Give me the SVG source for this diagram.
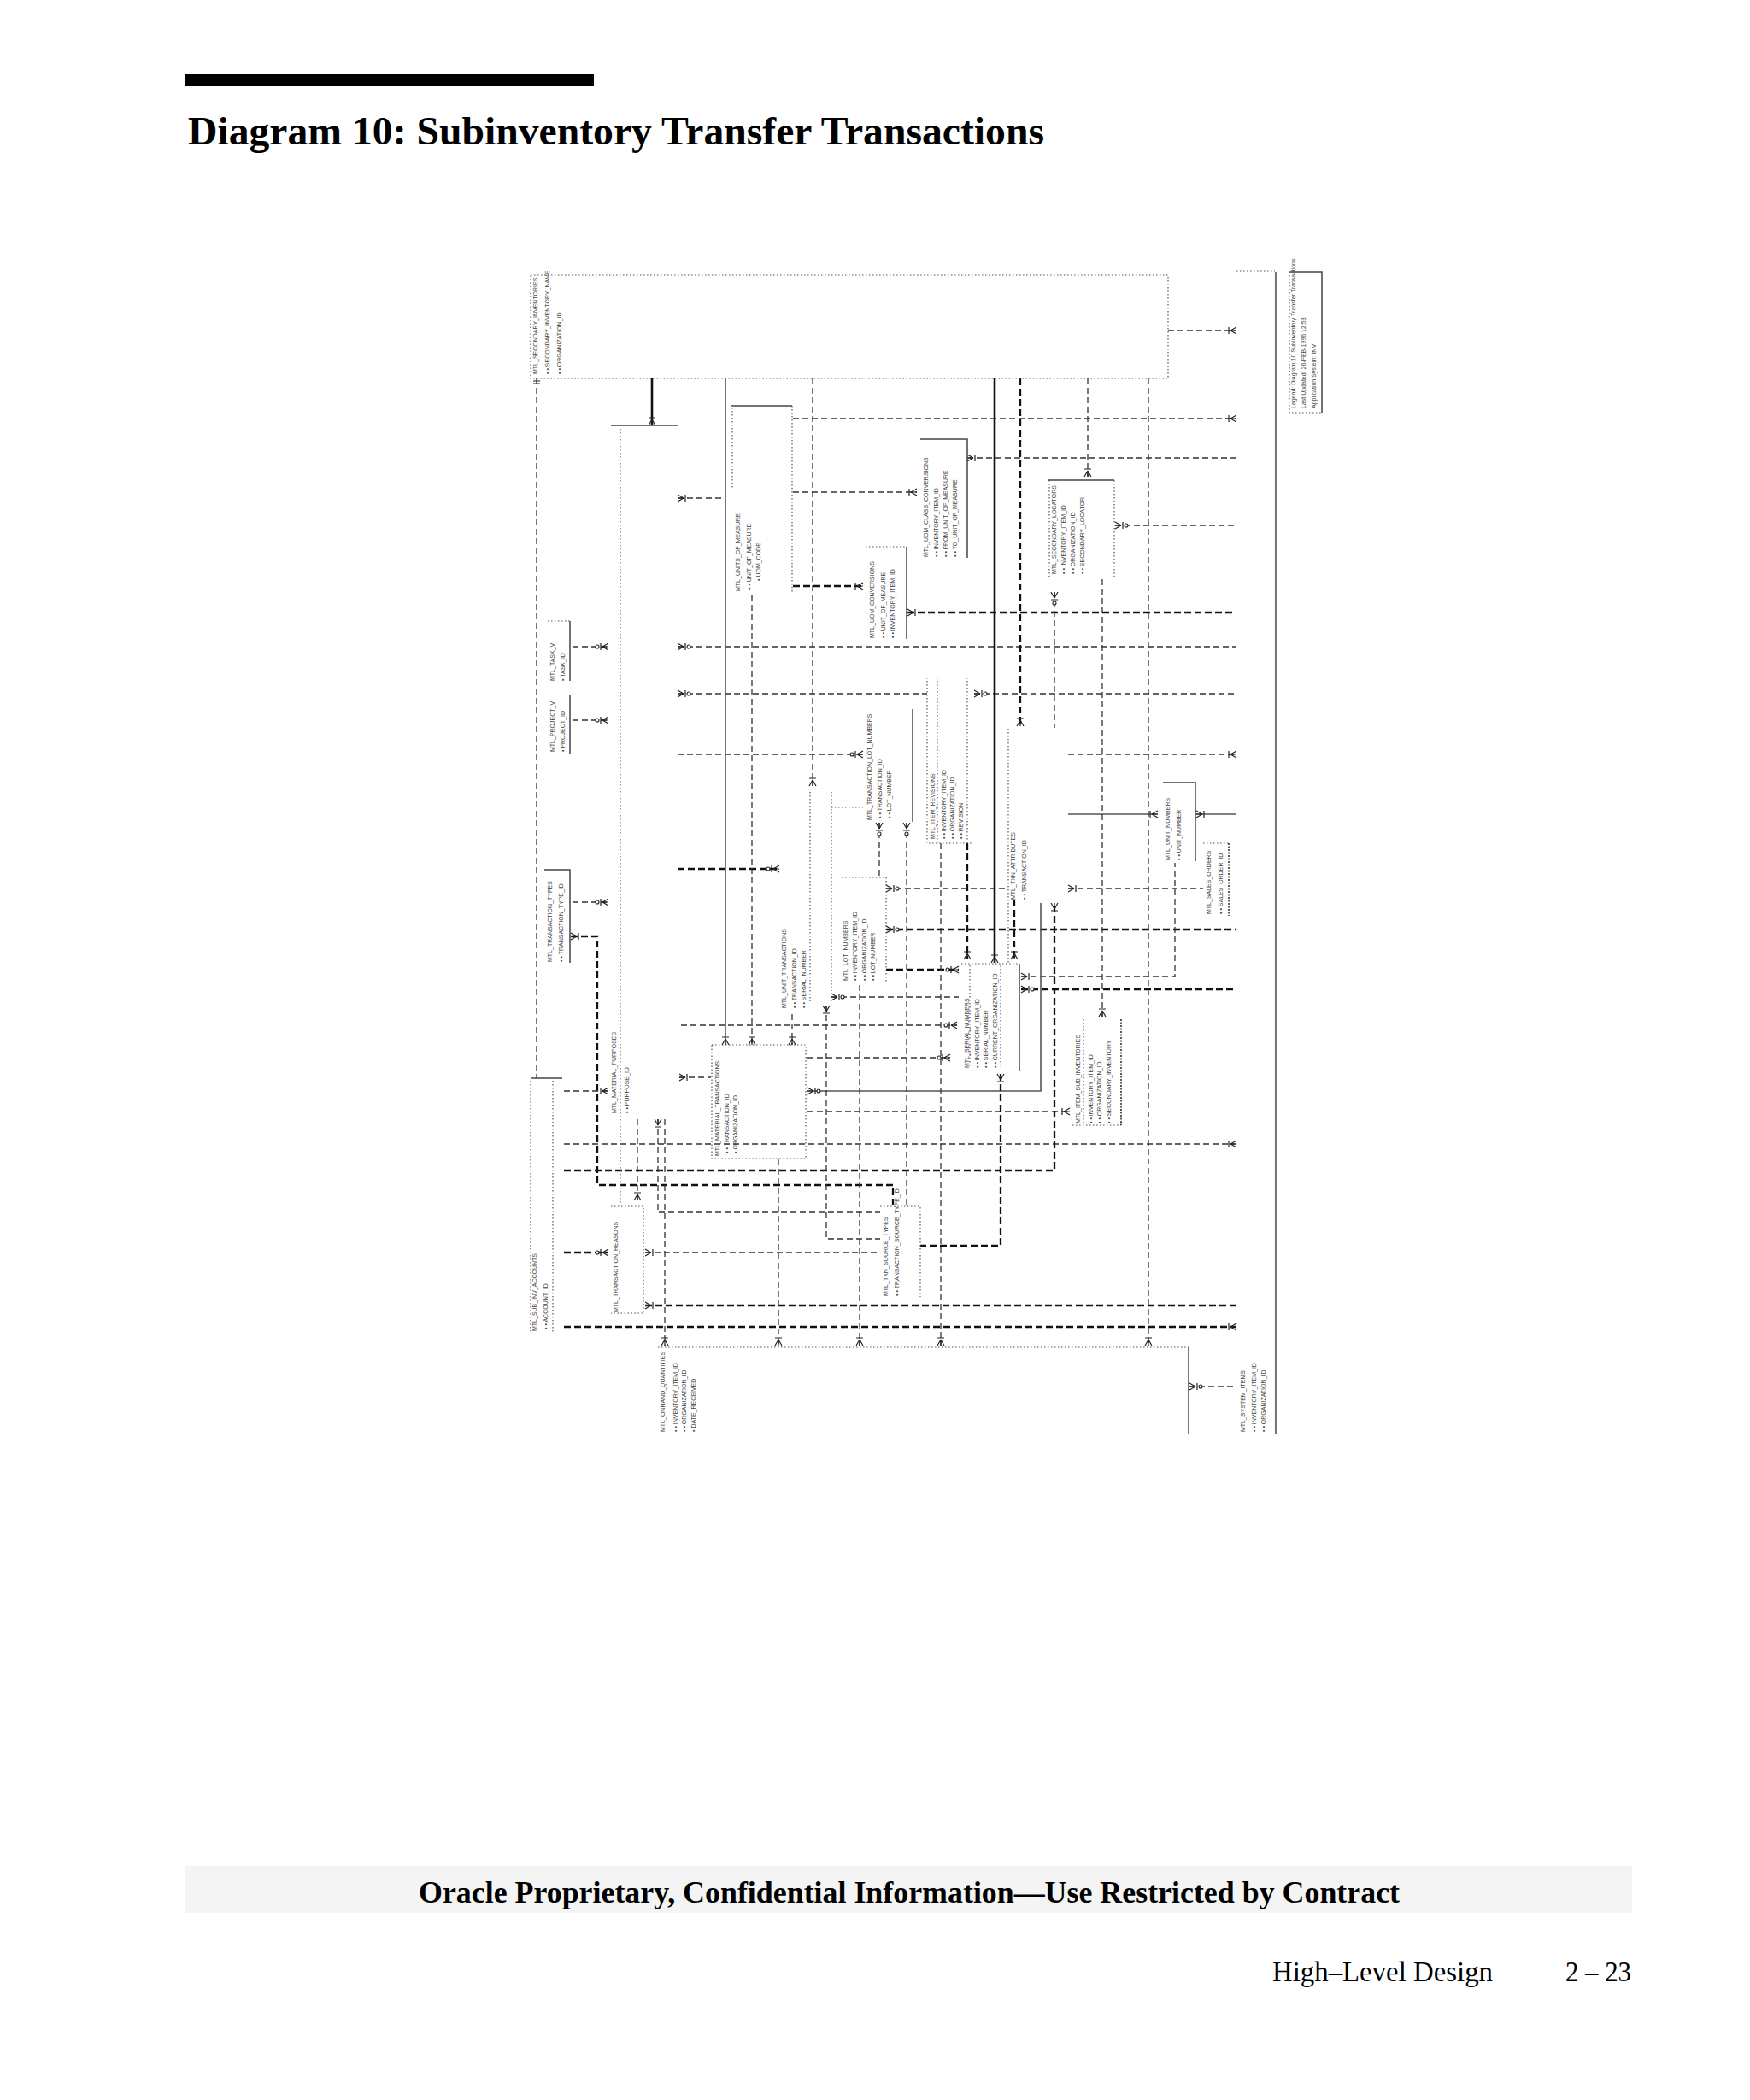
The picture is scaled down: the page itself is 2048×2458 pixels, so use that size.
<svg xmlns="http://www.w3.org/2000/svg" width="2048" height="2458" viewBox="0 0 2048 2458">
<style>
.td{fill:none;stroke:#333;stroke-width:1.3;stroke-dasharray:7 4}
.kd{fill:none;stroke:#111;stroke-width:2.3;stroke-dasharray:8 4}
.sg{fill:none;stroke:#555;stroke-width:1.6}
.sk{fill:none;stroke:#111;stroke-width:2.6}
.dot{fill:none;stroke:#555;stroke-width:1.2;stroke-dasharray:1.5 2.5}
.edge{fill:none;stroke:#444;stroke-width:1.5}
.t{font-family:"Liberation Sans",Arial,sans-serif;font-size:7px;fill:#444}
.serif{font-family:"Liberation Serif","Times New Roman",serif;fill:#000}
</style>
<defs>
<marker id="cf" viewBox="-12 -6 14 12" refX="0" refY="0" markerWidth="14" markerHeight="12" orient="auto-start-reverse" markerUnits="userSpaceOnUse">
<path d="M-7 0L0 -4M-7 0L0 0M-7 0L0 4M-9 -4V4" fill="none" stroke="#222" stroke-width="1.2"/>
</marker>
<marker id="cfo" viewBox="-17 -6 19 12" refX="0" refY="0" markerWidth="19" markerHeight="12" orient="auto-start-reverse" markerUnits="userSpaceOnUse">
<path d="M-7 0L0 -4M-7 0L0 0M-7 0L0 4M-9 -4V4" fill="none" stroke="#222" stroke-width="1.2"/>
<circle cx="-13" cy="0" r="2" fill="#fff" stroke="#222" stroke-width="1.1"/>
</marker>
<marker id="one" viewBox="-6 -6 8 12" refX="0" refY="0" markerWidth="8" markerHeight="12" orient="auto-start-reverse" markerUnits="userSpaceOnUse">
<path d="M-3 -4V4M-6 -4V4" fill="none" stroke="#222" stroke-width="1.2"/>
</marker>
</defs>
<rect width="2048" height="2458" fill="#fff"/>

<g id="header">
<rect x="217" y="87" width="478" height="14" fill="#000"/>
<text class="serif" x="220" y="169" font-size="46" font-weight="bold" textLength="1002" lengthAdjust="spacingAndGlyphs">Diagram 10: Subinventory Transfer Transactions</text>
</g>

<g id="footer">
<rect x="217" y="2184" width="1693" height="55" fill="#f4f4f4"/>
<text class="serif" x="490" y="2227" font-size="36" font-weight="bold" textLength="1148" lengthAdjust="spacingAndGlyphs">Oracle Proprietary, Confidential Information––Use Restricted by Contract</text>
<text class="serif" x="1489" y="2319" font-size="33" textLength="258" lengthAdjust="spacingAndGlyphs">High–Level Design</text>
<text class="serif" x="1832" y="2319" font-size="33" textLength="77" lengthAdjust="spacingAndGlyphs">2 – 23</text>
</g>

<g id="connectors">
<path class="td" d="M1367 387H1447" marker-end="url(#cf)"/>
<path class="td" d="M928 490H1447" marker-end="url(#cf)"/>
<path class="td" d="M1132 536H1447" marker-start="url(#cf)"/>
<path class="td" d="M928 576H1073" marker-end="url(#cf)"/>
<path class="td" d="M1305 615H1445" marker-start="url(#cfo)"/>
<path class="kd" d="M928 686H1010" marker-end="url(#cf)"/>
<path class="kd" d="M1062 717H1447" marker-start="url(#cf)"/>
<path class="td" d="M793 757H1447" marker-start="url(#cfo)"/>
<path class="td" d="M670 757H712" marker-end="url(#cfo)"/>
<path class="td" d="M793 812H1085" marker-start="url(#cfo)"/>
<path class="td" d="M1140 812H1447" marker-start="url(#cfo)"/>
<path class="td" d="M670 843H712" marker-end="url(#cfo)"/>
<path class="td" d="M793 883H1010" marker-end="url(#cfo)"/>
<path class="td" d="M1250 883H1447" marker-end="url(#cf)"/>
<path class="sg" d="M1250 953H1355" marker-end="url(#cf)"/>
<path class="sg" d="M1400 953H1447" marker-start="url(#cf)"/>
<path class="kd" d="M793 1017H912" marker-end="url(#cfo)"/>
<path class="td" d="M670 1056H712" marker-end="url(#cfo)"/>
<path class="kd" d="M668 1096H699V1387H1045V1410" marker-start="url(#cf)"/>
<path class="td" d="M1037 1040H1180" marker-start="url(#cfo)"/>
<path class="td" d="M1250 1040H1408" marker-start="url(#cf)"/>
<path class="kd" d="M1037 1088H1447" marker-start="url(#cfo)"/>
<path class="kd" d="M1037 1135H1122" marker-end="url(#cfo)"/>
<path class="td" d="M1195 1143H1375V1010" marker-start="url(#cf)"/>
<path class="kd" d="M1195 1158H1447" marker-start="url(#cfo)"/>
<path class="td" d="M973 1167H1122" marker-start="url(#cfo)"/>
<path class="td" d="M797 1200H1120" marker-end="url(#cfo)"/>
<path class="td" d="M945 1238H1112" marker-end="url(#cfo)"/>
<path class="sg" d="M945 1277H1218V1057" marker-start="url(#cfo)"/>
<path class="td" d="M945 1301H1252" marker-end="url(#cf)"/>
<path class="td" d="M660 1277H712" marker-end="url(#cf)"/>
<path class="td" d="M795 1261H832" marker-start="url(#cf)"/>
<path class="td" d="M660 1339H1447" marker-end="url(#cf)"/>
<path class="kd" d="M660 1370H1234V1057" marker-end="url(#cf)"/>
<path class="td" d="M770 1310V1419H1030" marker-start="url(#cf)"/>
<path class="kd" d="M660 1466H712" marker-end="url(#cfo)"/>
<path class="td" d="M755 1466H1030" marker-start="url(#cf)"/>
<path class="kd" d="M755 1528H1447" marker-start="url(#cf)"/>
<path class="kd" d="M660 1553H1447" marker-end="url(#cf)"/>
<path class="td" d="M967 1177V1450H1030" marker-start="url(#cf)"/>
<path class="kd" d="M1171 1257V1458H1077" marker-start="url(#cf)"/>
<path class="td" d="M1392 1623H1447" marker-start="url(#cfo)"/>
<path class="td" d="M793 583H848" marker-start="url(#cf)"/>
<path class="td" d="M628 443V1262" marker-start="url(#one)"/>
<path class="sk" d="M763 443V498" marker-end="url(#cf)"/>
<path class="sg" d="M849 443V1223" marker-end="url(#cf)"/>
<path class="td" d="M880 697V1223" marker-end="url(#cf)"/>
<path class="td" d="M951 443V920" marker-end="url(#cf)"/>
<path class="sk" d="M1164 443V1127" marker-end="url(#cf)"/>
<path class="kd" d="M1194 443V850" marker-end="url(#cf)"/>
<path class="td" d="M1273 443V558" marker-end="url(#cf)"/>
<path class="td" d="M1344 443V1575" marker-end="url(#cf)"/>
<path class="td" d="M1290 678V1190" marker-end="url(#cf)"/>
<path class="td" d="M1234 693V852" marker-start="url(#cfo)"/>
<path class="td" d="M927 1187V1223" marker-end="url(#cf)"/>
<path class="td" d="M1029 963V1027" marker-start="url(#cfo)"/>
<path class="sg" d="M1068 830V962"/>
<path class="td" d="M1061 963V1412" marker-start="url(#cfo)"/>
<path class="td" d="M1101 987V1575" marker-end="url(#cf)"/>
<path class="kd" d="M1132 987V1123" marker-end="url(#cf)"/>
<path class="kd" d="M1187 1053V1123" marker-end="url(#cf)"/>
<path class="td" d="M1006 1153V1575" marker-end="url(#cf)"/>
<path class="td" d="M746 1310V1405" marker-end="url(#cf)"/>
<path class="td" d="M778 1310V1575" marker-end="url(#cf)"/>
<path class="td" d="M911 1357V1575" marker-end="url(#cf)"/>
</g>

<g id="frame">
<path d="M1493 318V1678" fill="none" stroke="#777" stroke-width="2.2"/>
<path class="dot" d="M1447 317H1492"/>
</g>

<g id="legend">
<path class="edge" d="M1509 318H1547V483"/>
<path class="dot" d="M1509 318V483H1547"/>
<text class="t" transform="translate(1516 478) rotate(-90)">Legend: Diagram 10 Subinventory Transfer Transactions</text>
<text class="t" transform="translate(1528 478) rotate(-90)">Last Updated: 26-FEB-1996 12:53</text>
<text class="t" transform="translate(1540 478) rotate(-90)">Application System: INV</text>
</g>

<g id="mtl_secondary_inventories">
<rect class="dot" x="621" y="322" width="746" height="121"/>
<text class="t" transform="translate(629 438) rotate(-90)">MTL_SECONDARY_INVENTORIES</text>
<text class="t" transform="translate(643 438) rotate(-90)">• • SECONDARY_INVENTORY_NAME</text>
<text class="t" transform="translate(657 438) rotate(-90)">• • ORGANIZATION_ID</text>
</g>

<g id="mtl_units_of_measure">
<path class="edge" d="M856 475H927"/>
<path class="dot" d="M927 475V693M857 477V573"/>
<text class="t" transform="translate(866 692) rotate(-90)">MTL_UNITS_OF_MEASURE</text>
<text class="t" transform="translate(879 690) rotate(-90)">• • UNIT_OF_MEASURE</text>
<text class="t" transform="translate(890 680) rotate(-90)">• UOM_CODE</text>
</g>

<g id="mtl_uom_class_conversions">
<path class="edge" d="M1077 514H1132V653"/>
<text class="t" transform="translate(1086 652) rotate(-90)">MTL_UOM_CLASS_CONVERSIONS</text>
<text class="t" transform="translate(1098 652) rotate(-90)">• • INVENTORY_ITEM_ID</text>
<text class="t" transform="translate(1109 652) rotate(-90)">• • FROM_UNIT_OF_MEASURE</text>
<text class="t" transform="translate(1120 652) rotate(-90)">• • TO_UNIT_OF_MEASURE</text>
</g>

<g id="mtl_uom_conversions">
<path class="dot" d="M1013 640H1061"/>
<path class="edge" d="M1061 640V748"/>
<text class="t" transform="translate(1023 747) rotate(-90)">MTL_UOM_CONVERSIONS</text>
<text class="t" transform="translate(1036 747) rotate(-90)">• • UNIT_OF_MEASURE</text>
<text class="t" transform="translate(1047 747) rotate(-90)">• • INVENTORY_ITEM_ID</text>
</g>

<g id="mtl_secondary_locators">
<path class="edge" d="M1227 562H1304"/>
<path class="dot" d="M1228 562V675M1304 562V675"/>
<text class="t" transform="translate(1236 672) rotate(-90)">MTL_SECONDARY_LOCATORS</text>
<text class="t" transform="translate(1247 672) rotate(-90)">• • INVENTORY_ITEM_ID</text>
<text class="t" transform="translate(1258 672) rotate(-90)">• • ORGANIZATION_ID</text>
<text class="t" transform="translate(1269 672) rotate(-90)">• • SECONDARY_LOCATOR</text>
</g>

<g id="mtl_task_v">
<path class="dot" d="M641 727H667"/>
<path class="edge" d="M667 727V797"/>
<text class="t" transform="translate(649 797) rotate(-90)">MTL_TASK_V</text>
<text class="t" transform="translate(661 797) rotate(-90)">• TASK_ID</text>
</g>

<g id="mtl_project_v">
<path class="edge" d="M667 813V883"/>
<text class="t" transform="translate(649 880) rotate(-90)">MTL_PROJECT_V</text>
<text class="t" transform="translate(661 880) rotate(-90)">• PROJECT_ID</text>
</g>

<g id="mtl_transaction_types">
<path class="edge" d="M637 1018H667V1127"/>
<text class="t" transform="translate(646 1126) rotate(-90)">MTL_TRANSACTION_TYPES</text>
<text class="t" transform="translate(659 1126) rotate(-90)">• • TRANSACTION_TYPE_ID</text>
</g>

<g id="mtl_material_purposes">
<path class="edge" d="M715 498H793"/>
<path class="dot" d="M726 502V1410"/>
<text class="t" transform="translate(721 1303) rotate(-90)">MTL_MATERIAL_PURPOSES</text>
<text class="t" transform="translate(736 1303) rotate(-90)">• • PURPOSE_ID</text>
</g>

<g id="mtl_transaction_reasons">
<path class="dot" d="M715 1412H753V1537H715"/>
<text class="t" transform="translate(723 1536) rotate(-90)">MTL_TRANSACTION_REASONS</text>
</g>

<g id="mtl_sub_inv_accounts">
<path class="edge" d="M621 1262H658"/>
<path class="dot" d="M621 1265V1560M647 1265V1560"/>
<text class="t" transform="translate(628 1558) rotate(-90)">MTL_SUB_INV_ACCOUNTS</text>
<text class="t" transform="translate(641 1556) rotate(-90)">• • ACCOUNT_ID</text>
</g>

<g id="mtl_material_transactions">
<rect class="dot" x="833" y="1223" width="110" height="133"/>
<text class="t" transform="translate(842 1353) rotate(-90)">MTL_MATERIAL_TRANSACTIONS</text>
<text class="t" transform="translate(853 1350) rotate(-90)">• • TRANSACTION_ID</text>
<text class="t" transform="translate(863 1350) rotate(-90)">• ORGANIZATION_ID</text>
</g>

<g id="mtl_unit_transactions">
<path class="dot" d="M948 927V1172"/>
<text class="t" transform="translate(920 1180) rotate(-90)">MTL_UNIT_TRANSACTIONS</text>
<text class="t" transform="translate(932 1180) rotate(-90)">• • TRANSACTION_ID</text>
<text class="t" transform="translate(943 1180) rotate(-90)">• • SERIAL_NUMBER</text>
</g>

<g id="mtl_transaction_lot_numbers">
<path class="dot" d="M973 927V1160M973 945H1010"/>
<text class="t" transform="translate(1020 960) rotate(-90)">MTL_TRANSACTION_LOT_NUMBERS</text>
<text class="t" transform="translate(1032 958) rotate(-90)">• • TRANSACTION_ID</text>
<text class="t" transform="translate(1043 958) rotate(-90)">• • LOT_NUMBER</text>
</g>

<g id="mtl_lot_numbers">
<path class="dot" d="M985 1027H1037V1150"/>
<text class="t" transform="translate(992 1148) rotate(-90)">MTL_LOT_NUMBERS</text>
<text class="t" transform="translate(1003 1148) rotate(-90)">• • INVENTORY_ITEM_ID</text>
<text class="t" transform="translate(1014 1148) rotate(-90)">• • ORGANIZATION_ID</text>
<text class="t" transform="translate(1024 1148) rotate(-90)">• • LOT_NUMBER</text>
</g>

<g id="mtl_item_revisions">
<path class="dot" d="M1085 793V987H1137M1097 793V987M1132 793V987"/>
<text class="t" transform="translate(1094 982) rotate(-90)">MTL_ITEM_REVISIONS</text>
<text class="t" transform="translate(1107 982) rotate(-90)">• • INVENTORY_ITEM_ID</text>
<text class="t" transform="translate(1117 982) rotate(-90)">• • ORGANIZATION_ID</text>
<text class="t" transform="translate(1127 982) rotate(-90)">• • REVISION</text>
</g>

<g id="mtl_txn_attributes">
<path class="dot" d="M1180 853V1127"/>
<text class="t" transform="translate(1188 1053) rotate(-90)">MTL_TXN_ATTRIBUTES</text>
<text class="t" transform="translate(1201 1053) rotate(-90)">• • TRANSACTION_ID</text>
</g>

<g id="mtl_serial_numbers">
<path class="dot" d="M1125 1128H1193M1135 1130V1250M1171 1130V1250"/>
<path class="edge" d="M1193 1128V1253"/>
<text class="t" transform="translate(1134 1250) rotate(-90)">MTL_SERIAL_NUMBERS</text>
<text class="t" transform="translate(1146 1250) rotate(-90)">• • INVENTORY_ITEM_ID</text>
<text class="t" transform="translate(1156 1250) rotate(-90)">• • SERIAL_NUMBER</text>
<text class="t" transform="translate(1167 1250) rotate(-90)">• • CURRENT_ORGANIZATION_ID</text>
</g>

<g id="mtl_unit_numbers">
<path class="edge" d="M1361 916H1399V1008"/>
<text class="t" transform="translate(1369 1007) rotate(-90)">MTL_UNIT_NUMBERS</text>
<text class="t" transform="translate(1382 1007) rotate(-90)">• • UNIT_NUMBER</text>
</g>

<g id="mtl_sales_orders">
<path class="dot" d="M1408 987H1438"/>
<path d="M1438 987V1072" fill="none" stroke="#333" stroke-width="1.6" stroke-dasharray="2 1.5"/>
<text class="t" transform="translate(1417 1070) rotate(-90)">MTL_SALES_ORDERS</text>
<text class="t" transform="translate(1431 1070) rotate(-90)">• • SALES_ORDER_ID</text>
</g>

<g id="mtl_item_sub_inventories">
<path class="dot" d="M1255 1317H1312M1268 1193V1317"/>
<path d="M1312 1193V1317" fill="none" stroke="#333" stroke-width="1.6" stroke-dasharray="2 1.5"/>
<text class="t" transform="translate(1264 1315) rotate(-90)">MTL_ITEM_SUB_INVENTORIES</text>
<text class="t" transform="translate(1279 1315) rotate(-90)">• • INVENTORY_ITEM_ID</text>
<text class="t" transform="translate(1289 1315) rotate(-90)">• • ORGANIZATION_ID</text>
<text class="t" transform="translate(1300 1315) rotate(-90)">• • SECONDARY_INVENTORY</text>
</g>

<g id="mtl_txn_source_types">
<path class="dot" d="M1030 1412H1077V1518"/>
<text class="t" transform="translate(1039 1517) rotate(-90)">MTL_TXN_SOURCE_TYPES</text>
<text class="t" transform="translate(1052 1517) rotate(-90)">• • TRANSACTION_SOURCE_TYPE_ID</text>
</g>

<g id="mtl_onhand_quantities">
<path class="dot" d="M770 1577H1391"/>
<path class="sg" d="M1391 1577V1678"/>
<text class="t" transform="translate(778 1676) rotate(-90)">MTL_ONHAND_QUANTITIES</text>
<text class="t" transform="translate(793 1676) rotate(-90)">• • INVENTORY_ITEM_ID</text>
<text class="t" transform="translate(803 1676) rotate(-90)">• • ORGANIZATION_ID</text>
<text class="t" transform="translate(814 1676) rotate(-90)">• DATE_RECEIVED</text>
</g>

<g id="mtl_system_items">
<text class="t" transform="translate(1457 1676) rotate(-90)">MTL_SYSTEM_ITEMS</text>
<text class="t" transform="translate(1470 1676) rotate(-90)">• • INVENTORY_ITEM_ID</text>
<text class="t" transform="translate(1481 1676) rotate(-90)">• • ORGANIZATION_ID</text>
</g>
</svg>
